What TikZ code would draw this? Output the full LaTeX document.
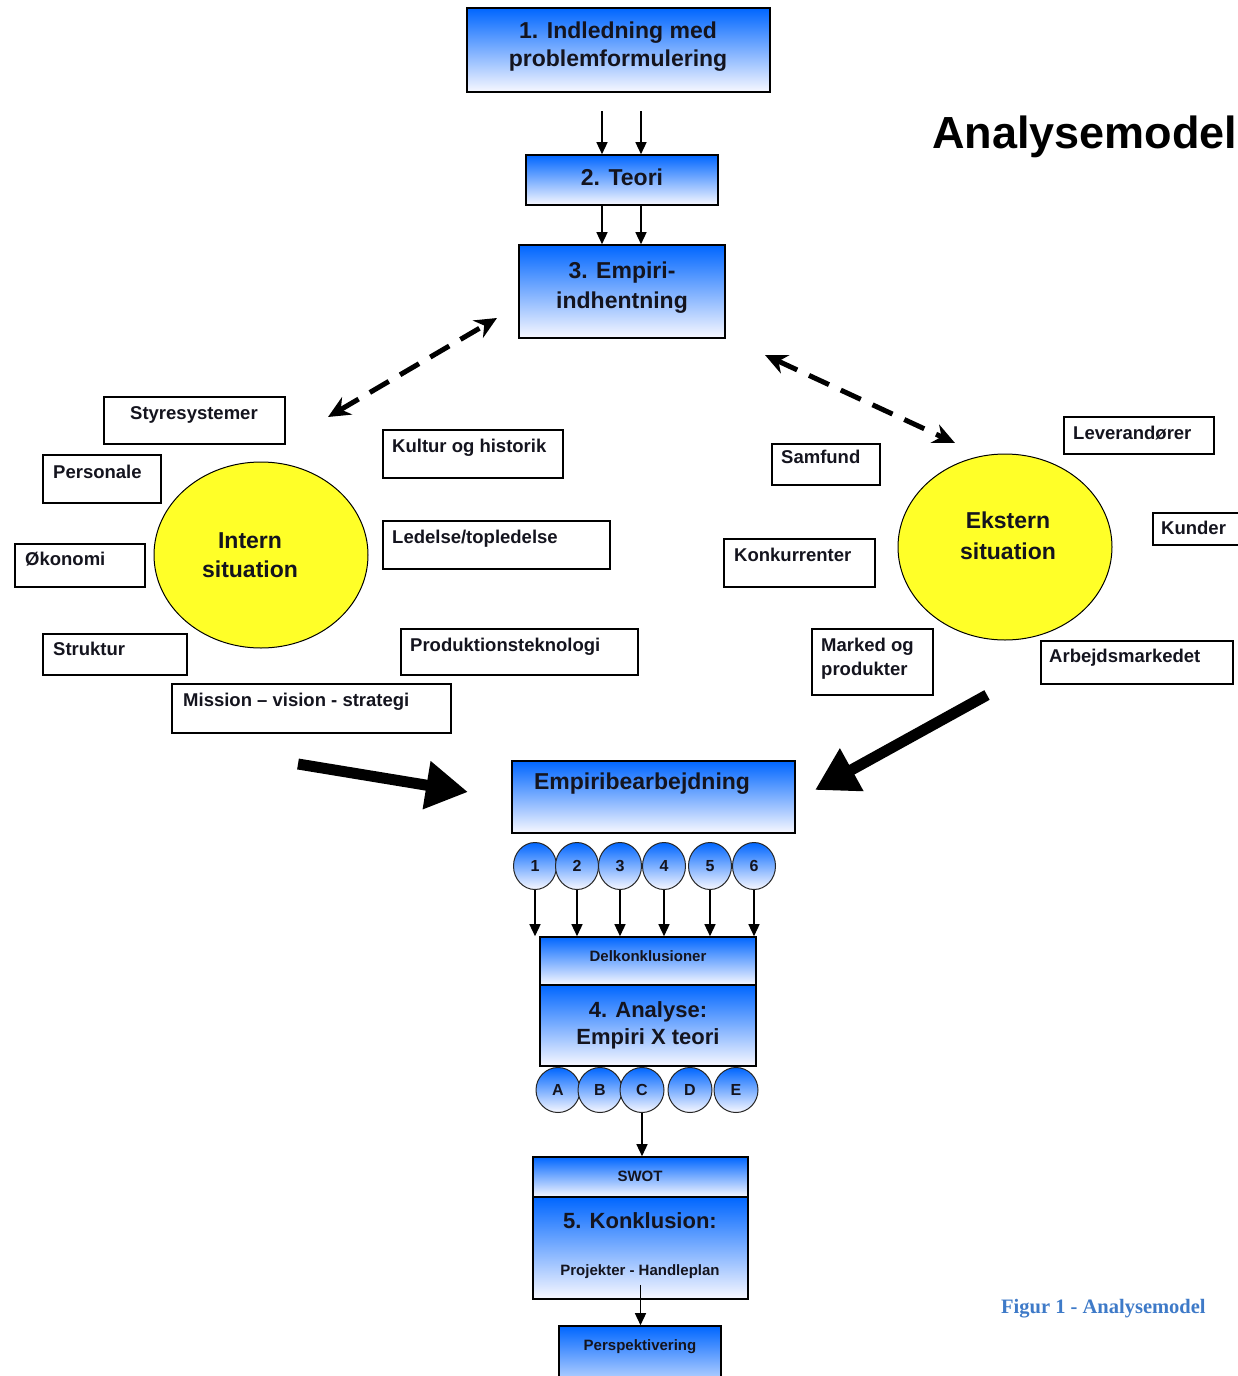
\documentclass[tikz,border=0pt]{standalone}
\usepackage{fontspec}
\setmainfont{Liberation Sans}
\newfontfamily\capfont{Liberation Serif}
\usetikzlibrary{arrows.meta,shapes.geometric,fit}

\definecolor{boxblue}{RGB}{0,102,255}
\definecolor{boxwhite}{RGB}{248,248,255}
\definecolor{sunyellow}{RGB}{255,255,40}
\definecolor{captionblue}{RGB}{62,122,200}
\definecolor{ink}{RGB}{20,20,30}

\tikzset{
  gradbox/.style={draw, line width=1.6pt, top color=boxblue, bottom color=boxwhite, inner sep=0pt},
  labelbox/.style={draw, line width=1.6pt, fill=white, inner sep=0pt},
  bigtext/.style={font=\bfseries\fontsize{23}{28}\selectfont, text=ink, inner sep=0pt, anchor=base},
  midtext/.style={font=\bfseries\fontsize{22}{26}\selectfont, text=ink, inner sep=0pt, anchor=base},
  smalltext/.style={font=\bfseries\fontsize{15}{18}\selectfont, text=ink, inner sep=0pt, anchor=base},
  sidetext/.style={font=\bfseries\fontsize{18.5}{23}\selectfont, text=ink, inner sep=0pt, anchor=base west},
  situation/.style={ellipse, draw, line width=1pt, fill=sunyellow, minimum width=214pt, minimum height=186pt, inner sep=0pt},
  bubble/.style={ellipse, draw=black!85, line width=1pt, top color=boxblue, bottom color=boxwhite,
    minimum width=43pt, minimum height=47pt, inner sep=0pt, text=ink,
    font=\bfseries\fontsize{16}{18}\selectfont},
  flow/.style={line width=1.4pt, -{Triangle[length=12pt,width=11pt]}},
  link/.style={line width=5pt, dash pattern=on 22pt off 13pt,
    {Stealth[length=22pt,width=20pt]}-{Stealth[length=22pt,width=20pt]}},
  bigarrow/.style={line width=11pt, -{Triangle[length=42pt,width=46pt]}},
}

\begin{document}
\begin{tikzpicture}[x=1pt,y=-1pt]
\clip (0,0) rectangle (1238,1376);
\fill[white] (0,0) rectangle (1238,1376);

% title
\node[anchor=base west, inner sep=0pt, font=\bfseries\fontsize{45}{50}\selectfont] (title) at (932,148) {Analysemodel};

% main chain, top part
\node[gradbox, fit={(467,8) (770,92)}] (intro) {};
\node[bigtext] (intro-a) at (618,38) {1. Indledning med};
\node[bigtext] (intro-b) at (618,66) {problemformulering};

\node[gradbox, fit={(526,155) (718,205)}] (theory) {};
\node[bigtext] (theory-t) at (622,185) {2. Teori};

\node[gradbox, fit={(519,245) (725,338)}] (empiri) {};
\node[bigtext] (empiri-a) at (622,278) {3. Empiri-};
\node[bigtext] (empiri-b) at (622,308) {indhentning};

\draw[flow] ([xshift=-20pt,yshift=43pt]theory.north) -- ([xshift=-20pt]theory.north);
\draw[flow] ([xshift=19pt,yshift=43pt]theory.north) -- ([xshift=19pt]theory.north);
\draw[flow] ([xshift=-20pt]theory.south) -- ([xshift=-20pt]empiri.north);
\draw[flow] ([xshift=19pt]theory.south) -- ([xshift=19pt]empiri.north);

% internal situation
\node[situation] (intern) at (261,555) {};
\node[bigtext] (intern-a) at (250,548) {Intern};
\node[bigtext] (intern-b) at (250,577) {situation};

\node[labelbox, fit={(104,397) (285,444)}] (styre) {};
\node[sidetext] (styre-t) at (130,419) {Styresystemer};
\node[labelbox, fit={(43,455) (161,503)}] (pers) {};
\node[sidetext] (pers-t) at (53,478) {Personale};
\node[labelbox, fit={(15,544) (145,587)}] (oko) {};
\node[sidetext] (oko-t) at (25,565) {Økonomi};
\node[labelbox, fit={(43,634) (187,675)}] (strukt) {};
\node[sidetext] (strukt-t) at (53,655) {Struktur};
\node[labelbox, fit={(172,684) (451,733)}] (miss) {};
\node[sidetext] (miss-t) at (183,706) {Mission – vision - strategi};
\node[labelbox, fit={(383,430) (563,478)}] (kult) {};
\node[sidetext] (kult-t) at (392,452) {Kultur og historik};
\node[labelbox, fit={(383,521) (610,569)}] (led) {};
\node[sidetext] (led-t) at (392,543) {Ledelse/topledelse};
\node[labelbox, fit={(401,629) (638,675)}] (prod) {};
\node[sidetext] (prod-t) at (410,651) {Produktionsteknologi};

% external situation
\node[situation] (ekstern) at (1005,547) {};
\node[bigtext] (ekstern-a) at (1008,528) {Ekstern};
\node[bigtext] (ekstern-b) at (1008,559) {situation};

\node[labelbox, fit={(772,444) (880,485)}] (samf) {};
\node[sidetext] (samf-t) at (781,463) {Samfund};
\node[labelbox, fit={(724,539) (875,587)}] (konk) {};
\node[sidetext] (konk-t) at (734,561) {Konkurrenter};
\node[labelbox, fit={(812,629) (933,695)}] (mark) {};
\node[sidetext] (mark-a) at (821,651) {Marked og};
\node[sidetext] (mark-b) at (821,675) {produkter};
\node[labelbox, fit={(1064,417) (1214,454)}] (lev) {};
\node[sidetext] (lev-t) at (1073,439) {Leverandører};
\node[labelbox, fit={(1153,513) (1250,545)}] (kund) {};
\node[sidetext] (kund-t) at (1161,534) {Kunder};
\node[labelbox, fit={(1041,641) (1233,684)}] (arb) {};
\node[sidetext] (arb-t) at (1049,662) {Arbejdsmarkedet};

% dashed links between data collection and the two situations
\coordinate (li-a) at (328,417);
\coordinate (li-b) at (497,318);
\coordinate (le-a) at (765,355);
\coordinate (le-b) at (955,443);
\draw[link] (li-a) -- (li-b);
\draw[link] (le-a) -- (le-b);

% processing
\node[gradbox, fit={(512,761) (795,833)}] (proc) {};
\node[bigtext] (proc-t) at (642,789) {Empiribearbejdning};

\coordinate (bl-a) at (298,764);
\coordinate (bl-b) at (468,792);
\coordinate (br-a) at (987,695);
\coordinate (br-b) at (815,790);
\draw[bigarrow] (bl-a) -- (bl-b);
\draw[bigarrow] (br-a) -- (br-b);

% analysis
\node[gradbox, fit={(540,937) (756,985)}] (delk) {};
\node[smalltext] (delk-t) at (648,961) {Delkonklusioner};
\node[gradbox, fit={(540,985) (756,1066)}] (anal) {};
\node[midtext] (anal-a) at (648,1017) {4. Analyse:};
\node[midtext] (anal-b) at (648,1044) {Empiri X teori};

\foreach \n/\x in {1/535,2/577,3/620,4/664,5/710,6/754}{
  \node[bubble] (b\n) at (\x,866) {\n};
  \draw[flow] (b\n.south) -- (b\n.south |- delk.north);
}

\foreach \n/\x in {A/558,B/600,C/642,D/690,E/736}{
  \node[bubble, minimum width=44pt, minimum height=45pt] (b\n) at (\x,1090) {\n};
}

% conclusion
\node[gradbox, fit={(533,1157) (748,1197)}] (swot) {};
\node[smalltext] (swot-t) at (640,1181) {SWOT};
\node[gradbox, fit={(533,1197) (748,1299)}] (konkl) {};
\node[midtext] (konkl-a) at (640,1228) {5. Konklusion:};
\node[smalltext] (konkl-b) at (640,1275) {Projekter - Handleplan};

\draw[flow] (bC.south) -- (bC.south |- swot.north);

\node[gradbox, fit={(559,1326) (721,1400)}] (persp) {};
\node[smalltext] (persp-t) at (640,1350) {Perspektivering};
\draw[flow] ([yshift=15pt]konkl.south) -- (persp.north -| konkl.south);

% caption
\node[anchor=base west, inner sep=0pt, text=captionblue, font=\capfont\bfseries\fontsize{20.5}{24}\selectfont] (caption) at (1001,1313) {Figur 1 - Analysemodel};
\end{tikzpicture}
\end{document}
